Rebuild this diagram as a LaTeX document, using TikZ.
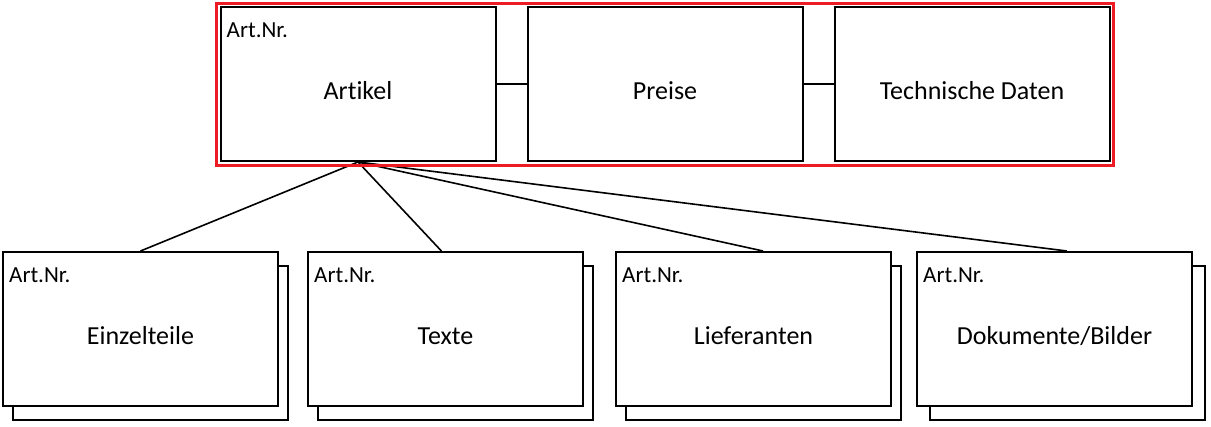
\documentclass[tikz,border=0pt]{standalone}
\usepackage{fontspec}
\setmainfont{Carlito}[Ligatures=CommonOff]
\usetikzlibrary{positioning,fit,shadows}
\definecolor{rahmenrot}{RGB}{237,28,36}

\begin{document}
\begin{tikzpicture}[node distance=30pt,
        tabelle/.style={draw, line width=2pt, fill=white, inner sep=0pt,
                        minimum width=275pt, minimum height=154pt,
                        text height=31pt, text depth=0pt,
                        font=\fontsize{26}{30}\selectfont},
        stapel/.style={copy shadow={shadow xshift=#1, shadow yshift=-14pt}},
        stapel/.default=10pt,
        nr/.style={anchor=base west, inner sep=0pt, font=\fontsize{23}{27}\selectfont}]
    \useasboundingbox (0,0) rectangle (1211pt,-426pt);
    % Kopf: Artikel mit 1:1-Tabellen
    \node[tabelle] (art)                    at (358pt,-84pt) {Artikel};
    \node[tabelle] (pre)  [right=of art]                     {Preise};
    \node[tabelle] (tech) [right=of pre]                     {Technische Daten};
    % 1:n-Tabellen
    \node[tabelle, stapel] (einz)                  at (140.5pt,-329pt) {Einzelteile};
    \node[tabelle, stapel] (text) [right=28pt of einz]                 {Texte};
    \node[tabelle, stapel] (lief) [right=31pt of text]                 {Lieferanten};
    \node[tabelle, stapel=13pt] (dok) [right=24pt of lief]             {Dokumente/Bilder};

    \foreach \n in {art,einz,text,lief,dok}
        \node[nr] (\n-nr) at ([shift={(7pt,-31pt)}]\n.north west) {Art.Nr.};

    \draw[line width=1.6pt]
        (art) edge (pre)
        (pre) edge (tech)
        (art.south) edge (einz.north)
                    edge (text.93)
                    edge (lief.83)
                    edge (dok.81);

    \node[draw=rahmenrot, line width=3pt, inner sep=3pt, fit=(art)(tech)] (rahmen) {};
\end{tikzpicture}
\end{document}
